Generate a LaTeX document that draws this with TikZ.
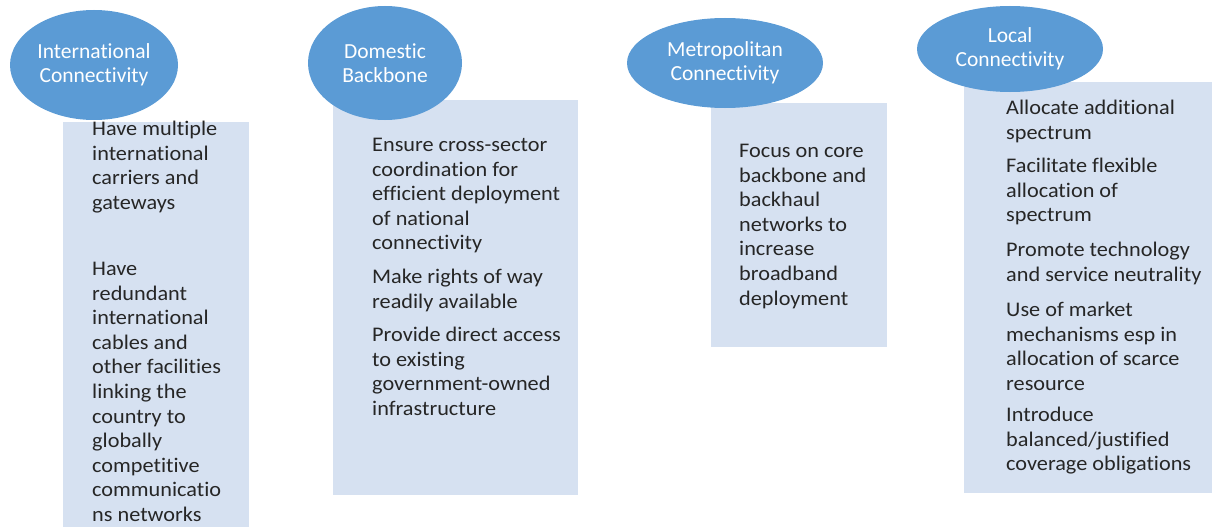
\documentclass[tikz,border=0pt]{standalone}
\usepackage{fontspec}
\setmainfont[Ligatures=NoCommon]{Carlito}
\newfontfamily\parafont[Ligatures=NoCommon,FakeStretch=1.07]{Carlito}
\usetikzlibrary{shapes.geometric}
\definecolor{ellblue}{HTML}{5B9BD5}
\definecolor{boxblue}{HTML}{D6E1F1}
\definecolor{txt}{HTML}{262626}
\begin{document}
\begin{tikzpicture}[x=1pt,y=-1pt,
  panel/.style={rectangle, fill=boxblue, draw=none, anchor=north west, inner sep=0pt, outer sep=0pt},
  head/.style={ellipse, fill=ellblue, draw=none, inner sep=0pt, text=white, align=center,
    font=\fontsize{21.5}{24}\selectfont},
  para/.style={anchor=north west, inner sep=0pt, align=left, text=txt,
    font=\parafont\fontsize{20.8}{24.6}\selectfont}]
\useasboundingbox (0,0) rectangle (1212,527);
% panels
\node[panel, minimum width=186pt, minimum height=405pt] (b1) at (63,122) {};
\node[panel, minimum width=245pt, minimum height=395pt] (b2) at (333,100) {};
\node[panel, minimum width=176pt, minimum height=244pt] (b3) at (711,103) {};
\node[panel, minimum width=248pt, minimum height=411pt] (b4) at (964,82) {};
% heads
\node[head, minimum width=168pt, minimum height=110pt] (e1) at (94,65) {International\\Connectivity};
\node[head, minimum width=154pt, minimum height=114pt] (e2) at (385,63) {Domestic\\Backbone};
\node[head, minimum width=196pt, minimum height=90pt] (e3) at (725,63) {Metropolitan\\Connectivity};
\node[head, minimum width=186pt, minimum height=86pt] (e4) at (1010,49) {Local\\Connectivity};
% texts panel 1
\node[para] (t1a) at (92,121) {Have multiple\\international\\carriers and\\gateways};
\node[para] (t1b) at (92,262) {Have\\redundant\\international\\cables and\\other facilit\kern0pt ies\\linking the\\country to\\globally\\competitive\\communicat\kern0pt io\\ns networks};
% panel 2
\node[para] (t2a) at (372,138) {Ensure cross-sector\\coordination for\\efficient deployment\\of national\\connectivity};
\node[para] (t2b) at (372,269) {Make rights of way\\readily available};
\node[para] (t2c) at (372,327) {Provide direct access\\to existing\\government-owned\\infrastructure};
% panel 3
\node[para] (t3a) at (739,144) {Focus on core\\backbone and\\backhaul\\networks to\\increase\\broadband\\deployment};
% panel 4
\node[para] (t4a) at (1006,100) {Allocate additional\\spectrum};
\node[para] (t4b) at (1006,158) {Facilitate flexible\\allocation of\\spectrum};
\node[para] (t4c) at (1006,242) {Promote technology\\and service neutrality};
\node[para] (t4d) at (1006,302) {Use of market\\mechanisms esp in\\allocation of scarce\\resource};
\node[para] (t4e) at (1006,407) {Introduce\\balanced/justified\\coverage obligations};
\end{tikzpicture}
\end{document}
